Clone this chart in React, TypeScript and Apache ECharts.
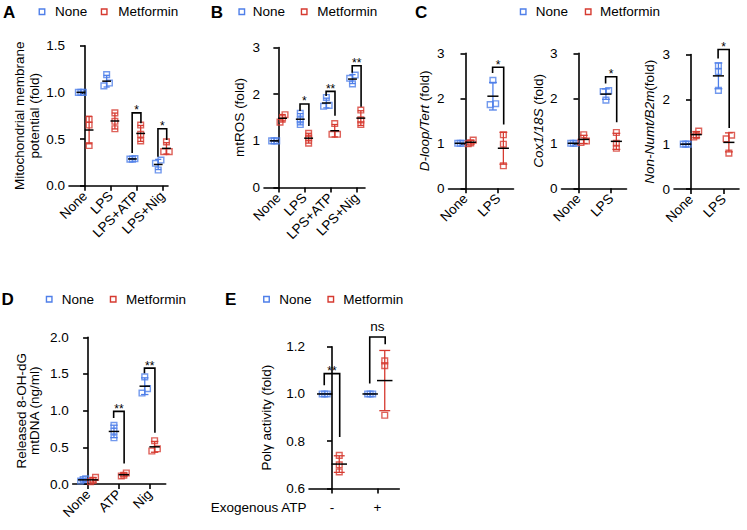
import React, { useEffect, useRef } from 'react';
import * as echarts from 'echarts';

const BLUE = '#4f7fe9';
const RED = '#d63a30';
const FONT = 'Arial, "Liberation Sans", Helvetica, sans-serif';
const FS = 13.5;

// ---- Panel A: mitochondrial membrane potential ----
const catsA = ['None', 'LPS', 'LPS+ATP', 'LPS+Nig'];
const noneA = [[1.0, 1.0, 1.0], [1.19, 1.10, 1.07], [0.29, 0.285, 0.285], [0.275, 0.24, 0.168]];
const metA = [[0.71, 0.65, 0.43], [0.78, 0.69, 0.61], [0.65, 0.55, 0.48], [0.47, 0.365, 0.365]];
const sigA: [number, number, number, number, string][] = [[2, 0.78, 0.35, 0.67, '*'], [3, 0.61, 0.31, 0.49, '*']];

// ---- Panel B: mtROS ----
const catsB = ['None', 'LPS', 'LPS+ATP', 'LPS+Nig'];
const noneB = [[1.0, 1.0, 1.0], [1.59, 1.45, 1.35], [1.93, 1.76, 1.74], [2.41, 2.34, 2.22]];
const metB = [[1.56, 1.49, 1.40], [1.16, 1.06, 0.95], [1.37, 1.14, 1.14], [1.66, 1.45, 1.35]];
const sigB: [number, number, number, number, string][] = [[1, 1.79, 1.64, 1.32, '*'], [2, 2.06, 1.96, 1.54, '**'], [3, 2.61, 2.46, 1.73, '**']];

// ---- Panel C: mtDNA ----
const catsC = ['None', 'LPS'];
const noneC1 = [[1.0, 1.0, 1.0], [2.40, 1.88, 1.86]];
const metC1 = [[1.07, 1.01, 0.99], [1.19, 0.98, 0.50]];
const sigC1: [number, number, number, number, string][] = [[1, 2.69, 2.56, 1.42, '*']];
const noneC2 = [[1.0, 1.0, 1.0], [2.17, 2.15, 1.96]];
const metC2 = [[1.19, 1.05, 1.02], [1.24, 1.00, 0.89]];
const sigC2: [number, number, number, number, string][] = [[1, 2.48, 2.33, 1.47, '*']];
const noneC3 = [[1.0, 1.0, 1.0], [2.75, 2.62, 2.20]];
const metC3 = [[1.29, 1.19, 1.16], [1.20, 1.12, 0.80]];
const sigC3: [number, number, number, number, string][] = [[1, 3.11, 2.91, 1.36, '*']];

// ---- Panel D: released 8-OH-dG ----
const catsD = ['None', 'ATP', 'Nig'];
const noneD = [[0.07, 0.06, 0.04], [0.80, 0.72, 0.63], [1.46, 1.30, 1.24]];
const metD = [[0.09, 0.05, 0.03], [0.15, 0.12, 0.11], [0.59, 0.48, 0.45]];
const sigD: [number, number, number, number, string][] = [[1, 0.99, 0.90, 0.28, '**'], [2, 1.58, 1.51, 0.70, '**']];

// ---- Panel E: Pol gamma activity ----
const catsE = ['-', '+'];
const noneE = [[1.0, 1.0, 1.0], [1.0, 1.0, 1.0]];
const metE = [[0.74, 0.70, 0.67], [1.14, 1.12, 0.91]];
const sigE: [number, number, number, number, string][] = [[0, 1.086, 1.037, 0.818, '**'], [1, 1.241, 1.044, 1.21, 'ns']];

type Panel = {
  cats: string[]; none: number[][]; met: number[][]; sig: [number, number, number, number, string][];
  rect: [number, number, number, number]; xr: [number, number];
  yMin: number; yMax: number; yInt: number; dec: number;
  name: string; nameGap: number; lineHeight: number; rot: number; margin: number;
};

const panels: Panel[] = [
  { cats: catsA, none: noneA, met: metA, sig: sigA, rect: [69, 45.7, 99, 140], xr: [-0.62, 3.22], yMin: 0, yMax: 1.5, yInt: 0.5, dec: 1, name: 'Mitochondrial membrane\npotential (fold)', nameGap: 27, lineHeight: 15, rot: 45, margin: 8 },
  { cats: catsB, none: noneB, met: metB, sig: sigB, rect: [264, 47.5, 101, 140], xr: [-0.55, 3.32], yMin: 0, yMax: 3, yInt: 1, dec: 0, name: 'mtROS (fold)', nameGap: 17, lineHeight: 15, rot: 45, margin: 8 },
  { cats: catsC, none: noneC1, met: metC1, sig: sigC1, rect: [448.5, 53.3, 65, 135], xr: [-0.52, 1.47], yMin: 0, yMax: 3, yInt: 1, dec: 0, name: '{i|D-loop/Tert} (fold)', nameGap: 17, lineHeight: 15, rot: 45, margin: 8 },
  { cats: catsC, none: noneC2, met: metC2, sig: sigC2, rect: [561.5, 53.3, 65, 135], xr: [-0.52, 1.47], yMin: 0, yMax: 3, yInt: 1, dec: 0, name: '{i|Cox1/18S} (fold)', nameGap: 16, lineHeight: 15, rot: 45, margin: 8 },
  { cats: catsC, none: noneC3, met: metC3, sig: sigC3, rect: [674, 54.5, 65, 134.5], xr: [-0.52, 1.47], yMin: 0, yMax: 3, yInt: 1, dec: 0, name: '{i|Non-Numt/B2m}(fold)', nameGap: 17, lineHeight: 15, rot: 45, margin: 8 },
  { cats: catsD, none: noneD, met: metD, sig: sigD, rect: [72.7, 337.3, 93, 146.7], xr: [-0.5, 2.52], yMin: 0, yMax: 2, yInt: 0.5, dec: 1, name: 'Released 8-OH-dG\nmtDNA (ng/ml)', nameGap: 31, lineHeight: 13.5, rot: 45, margin: 8 },
  { cats: catsE, none: noneE, met: metE, sig: sigE, rect: [309, 346.7, 90.3, 141.8], xr: [-0.505, 1.48], yMin: 0.6, yMax: 1.2, yInt: 0.2, dec: 1, name: 'Polγ activity (fold)', nameGap: 35, lineHeight: 15, rot: 0, margin: 12 },
];

const GROUP_OFF = 0.16;

function mean(a: number[]) { return a.reduce((s, v) => s + v, 0) / a.length; }
function sd(a: number[]) {
  const m = mean(a);
  return Math.sqrt(a.reduce((s, v) => s + (v - m) * (v - m), 0) / (a.length - 1));
}

function spread(vals: number[], pxPerUnit: number): number[] {
  const offs = vals.map(() => 0);
  const idx = vals.map((_, i) => i).sort((a, b) => vals[a] - vals[b]);
  const clusters: number[][] = [];
  let cur = [idx[0]];
  for (let k = 1; k < idx.length; k++) {
    if ((vals[idx[k]] - vals[idx[k - 1]]) * pxPerUnit < 4.5) cur.push(idx[k]);
    else { clusters.push(cur); cur = [idx[k]]; }
  }
  clusters.push(cur);
  clusters.forEach((c) => {
    const step = c.length >= 3 ? 2.5 : 5.5;
    c.forEach((id, j) => { offs[id] = (j - (c.length - 1) / 2) * step; });
  });
  return offs;
}

function buildOption() {
  const grid: any[] = [];
  const xAxis: any[] = [];
  const yAxis: any[] = [];
  const series: any[] = [];

  panels.forEach((p, k) => {
    const [l, t, w, h] = p.rect;
    grid.push({ left: l, top: t, width: w, height: h, containLabel: false });
    const ticks = p.cats.map((_, i) => i);
    xAxis.push({
      type: 'value', gridIndex: k, min: p.xr[0], max: p.xr[1],
      axisLine: { show: true, onZero: false, lineStyle: { color: '#000', width: 1.6 } },
      axisTick: { show: true, length: 5, customValues: ticks, lineStyle: { color: '#000', width: 1.6 } },
      axisLabel: {
        show: true, customValues: ticks, rotate: p.rot, margin: p.margin,
        formatter: (v: number) => p.cats[Math.round(v)] ?? '',
        fontSize: FS, color: '#000', fontFamily: FONT,
      },
      splitLine: { show: false },
    });
    yAxis.push({
      type: 'value', gridIndex: k, min: p.yMin, max: p.yMax, interval: p.yInt,
      axisLine: { show: true, lineStyle: { color: '#000', width: 1.6 } },
      axisTick: { show: true, length: 5, lineStyle: { color: '#000', width: 1.6 } },
      axisLabel: { formatter: (v: number) => v.toFixed(p.dec), fontSize: FS, color: '#000', fontFamily: FONT, margin: 4 },
      splitLine: { show: false },
      name: p.name, nameLocation: 'middle', nameGap: p.nameGap,
      nameTextStyle: {
        fontSize: FS, color: '#000', fontFamily: FONT, lineHeight: p.lineHeight,
        rich: { i: { fontSize: FS, color: '#000', fontFamily: FONT, fontStyle: 'italic' } },
      },
    });

    const pxPerUnit = h / (p.yMax - p.yMin);
    const groups = [{ vals: p.none, color: BLUE, off: -GROUP_OFF, name: 'None' }, { vals: p.met, color: RED, off: GROUP_OFF, name: 'Metformin' }];
    const stats: number[][] = [];
    groups.forEach((g, gi) => {
      const data: any[] = [];
      g.vals.forEach((arr, ci) => {
        const offs = spread(arr, pxPerUnit);
        arr.forEach((v, j) => data.push({ value: [ci + g.off, v], symbolOffset: [offs[j], 0] }));
        stats.push([ci + g.off, mean(arr), sd(arr), gi]);
      });
      series.push({
        type: 'scatter', name: g.name, xAxisIndex: k, yAxisIndex: k, data,
        symbol: 'rect', symbolSize: 5.7,
        itemStyle: { color: 'rgba(0,0,0,0)', borderColor: g.color, borderWidth: 1.4 },
        z: 3,
      });
    });
    series.push({
      type: 'custom', xAxisIndex: k, yAxisIndex: k, data: stats, z: 4, clip: false,
      renderItem: (params: any, api: any) => {
        const x = api.value(0), m = api.value(1), s = api.value(2), gi = api.value(3);
        const color = gi === 0 ? BLUE : RED;
        const c = api.coord([x, m]);
        const top = api.coord([x, m + s]);
        const bot = api.coord([x, m - s]);
        const hw = api.size([0.17, 0])[0];
        const cw = api.size([0.12, 0])[0];
        return {
          type: 'group', children: [
            { type: 'line', shape: { x1: c[0], y1: top[1], x2: c[0], y2: bot[1] }, style: { stroke: color, lineWidth: 1.3 } },
            { type: 'line', shape: { x1: c[0] - cw, y1: top[1], x2: c[0] + cw, y2: top[1] }, style: { stroke: color, lineWidth: 1.3 } },
            { type: 'line', shape: { x1: c[0] - cw, y1: bot[1], x2: c[0] + cw, y2: bot[1] }, style: { stroke: color, lineWidth: 1.3 } },
            { type: 'line', shape: { x1: c[0] - hw, y1: c[1], x2: c[0] + hw, y2: c[1] }, style: { stroke: '#000', lineWidth: 1.5 } },
          ],
        };
      },
    });
    const sig = p.sig;
    series.push({
      type: 'custom', xAxisIndex: k, yAxisIndex: k, z: 5, clip: false,
      data: sig.map((s) => [s[0], s[1], s[2], s[3]]),
      renderItem: (params: any, api: any) => {
        const s = sig[params.dataIndex];
        const c = s[0];
        const pL = api.coord([c - 0.17, s[2]]);
        const pLT = api.coord([c - 0.17, s[1]]);
        const pRT = api.coord([c + 0.17, s[1]]);
        const pR = api.coord([c + 0.17, s[3]]);
        const mid = api.coord([c, s[1]]);
        const isNs = s[4] === 'ns';
        return {
          type: 'group', children: [
            { type: 'polyline', shape: { points: [pL, pLT, pRT, pR] }, style: { stroke: '#000', lineWidth: 1.6, fill: 'none' } },
            { type: 'text', x: mid[0], y: mid[1] + (isNs ? -11 : -2.5), style: { text: s[4], fontSize: isNs ? FS : 12, fontFamily: FONT, fill: '#000', align: 'center', verticalAlign: 'middle' } },
          ],
        };
      },
    });
  });

  const graphic: any[] = [];
  const letters: [string, number, number][] = [['A', 3, 12.5], ['B', 210.7, 12.5], ['C', 415, 12.5], ['D', 1.5, 299.5], ['E', 225, 299.5]];
  letters.forEach(([t, x, y]) => graphic.push({ type: 'text', x, y, style: { text: t, fontSize: 17, fontWeight: 'bold', fontFamily: FONT, fill: '#000', verticalAlign: 'middle' } }));
  const legends: [number, number, number, number, number][] = [
    [42, 55, 104.2, 118.3, 11.7],
    [241.8, 252.7, 304.2, 317.3, 11.7],
    [523.2, 535.7, 588.2, 600, 11.7],
    [49.2, 61.7, 113.2, 126, 299.3],
    [266.5, 279.3, 330.8, 343.3, 299.3],
  ];
  legends.forEach(([bx, tx, rx, mx, y]) => {
    graphic.push({ type: 'rect', shape: { x: bx - 2.75, y: y - 2.75, width: 5.5, height: 5.5 }, style: { fill: 'none', stroke: BLUE, lineWidth: 1.4 } });
    graphic.push({ type: 'text', x: tx, y, style: { text: 'None', fontSize: FS, fontFamily: FONT, fill: '#000', verticalAlign: 'middle' } });
    graphic.push({ type: 'rect', shape: { x: rx - 2.75, y: y - 2.75, width: 5.5, height: 5.5 }, style: { fill: 'none', stroke: RED, lineWidth: 1.4 } });
    graphic.push({ type: 'text', x: mx, y, style: { text: 'Metformin', fontSize: FS, fontFamily: FONT, fill: '#000', verticalAlign: 'middle' } });
  });
  graphic.push({ type: 'text', x: 210.7, y: 507.7, style: { text: 'Exogenous ATP', fontSize: FS, fontFamily: FONT, fill: '#000', verticalAlign: 'middle' } });

  return { animation: false, backgroundColor: '#fff', grid, xAxis, yAxis, series, graphic };
}

export default function App() {
  const ref = useRef<HTMLDivElement>(null);
  useEffect(() => {
    const chart = echarts.init(ref.current!, null, { renderer: 'svg' });
    chart.setOption(buildOption() as any);
    return () => chart.dispose();
  }, []);
  return <div ref={ref} style={{ position: 'absolute', left: 0, top: 0, width: 747, height: 530 }} />;
}
